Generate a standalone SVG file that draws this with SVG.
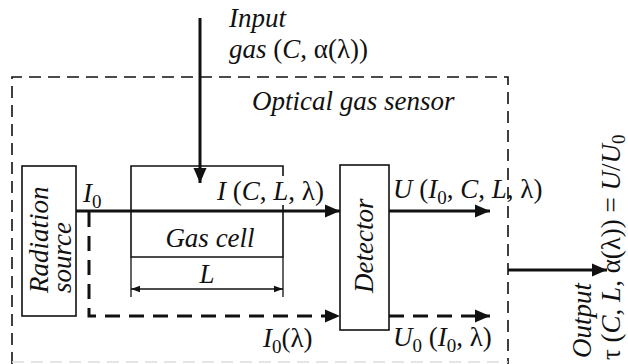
<svg xmlns="http://www.w3.org/2000/svg" width="628" height="364" viewBox="0 0 628 364">
<defs>
<marker id="ah" markerUnits="userSpaceOnUse" markerWidth="16" markerHeight="14" refX="15" refY="7" orient="auto"><path d="M0,0.5 L15,7 L0,13.5 Z" fill="#111"/></marker>
<marker id="sa" markerUnits="userSpaceOnUse" markerWidth="10" markerHeight="8" refX="9" refY="4" orient="auto-start-reverse"><path d="M0,0.8 L9,4 L0,7.2 Z" fill="#111"/></marker>
</defs>

<g id="sensor-frame">
<path d="M12,364 V77 H508 V364" fill="none" stroke="#111" stroke-width="1.6" stroke-dasharray="12 7"/>
<path d="M12,362 H508" stroke="#ddd" stroke-width="1.6" stroke-dasharray="12 7" fill="none"/>
<text x="252" y="110" font-family="Liberation Serif" font-size="27" font-style="italic" fill="#111">Optical gas sensor</text>
</g>

<g id="input-label" font-family="Liberation Serif" font-size="27" fill="#111">
<text x="229" y="27" font-style="italic">Input</text>
<text x="229" y="58"><tspan font-style="italic">gas</tspan> (<tspan font-style="italic">C</tspan>, α(λ))</text>
</g>

<g id="radiation-source" font-family="Liberation Serif" font-size="27" fill="#111">
<rect x="22" y="166" width="54" height="150" fill="none" stroke="#111" stroke-width="1.6"/>
<text font-style="italic" transform="translate(48,293) rotate(-90)">Radiation</text>
<text font-style="italic" transform="translate(71,293) rotate(-90)">source</text>
</g>

<g id="gas-cell" font-family="Liberation Serif" font-size="27" fill="#111">
<path d="M283,176 V166 H131 V257 H283 V205" fill="none" stroke="#111" stroke-width="1.6"/>
<text font-style="italic" x="210" y="247" text-anchor="middle">Gas cell</text>
</g>

<g id="detector" font-family="Liberation Serif" font-size="27" fill="#111">
<rect x="340" y="165" width="49" height="165" fill="none" stroke="#111" stroke-width="1.6"/>
<text font-style="italic" transform="translate(373,293) rotate(-90)">Detector</text>
</g>

<g id="connectors" fill="none" stroke="#111">
<path stroke-width="3" d="M200,18 V183" marker-end="url(#ah)"/>
<path stroke-width="3" d="M76,211 H340" marker-end="url(#ah)"/>
<path stroke-width="3" d="M389,211 H490" marker-end="url(#ah)"/>
<path stroke-width="3" stroke-dasharray="15 9" d="M89,212 V316 H340" marker-end="url(#ah)"/>
<path stroke-width="3" stroke-dasharray="15 9" d="M389,316 H490" marker-end="url(#ah)"/>
<path stroke-width="3" d="M508,270 H607" marker-end="url(#ah)"/>
<path stroke-width="1.3" d="M131,257 V297 M283,257 V297"/>
<path stroke-width="1.3" d="M131,289 H283" marker-start="url(#sa)" marker-end="url(#sa)"/>
</g>

<g id="labels" font-family="Liberation Serif" font-size="27" fill="#111">
<text x="83" y="202"><tspan font-style="italic">I</tspan><tspan font-size="19" dy="6">0</tspan></text>
<text x="217" y="200"><tspan font-style="italic">I</tspan> (<tspan font-style="italic">C</tspan>, <tspan font-style="italic">L</tspan>, λ)</text>
<text x="207" y="283" font-style="italic" text-anchor="middle">L</text>
<text x="393" y="198"><tspan font-style="italic">U</tspan> (<tspan font-style="italic">I</tspan><tspan font-size="19" dy="6">0</tspan><tspan dy="-6">, </tspan><tspan font-style="italic">C</tspan>, <tspan font-style="italic">L</tspan>, λ)</text>
<text x="263" y="347"><tspan font-style="italic">I</tspan><tspan font-size="19" dy="6">0</tspan><tspan dy="-6">(λ)</tspan></text>
<text x="393" y="346"><tspan font-style="italic">U</tspan><tspan font-size="19" dy="6">0</tspan><tspan dy="-6"> (</tspan><tspan font-style="italic">I</tspan><tspan font-size="19" dy="6">0</tspan><tspan dy="-6">, λ)</tspan></text>
<text font-style="italic" transform="translate(591,358) rotate(-90)">Output</text>
<text transform="translate(620,360) rotate(-90)">τ (<tspan font-style="italic">C</tspan>, <tspan font-style="italic">L</tspan>, α(λ)) = <tspan font-style="italic">U</tspan>/<tspan font-style="italic">U</tspan><tspan font-size="19" dy="5">0</tspan></text>
</g>
</svg>
